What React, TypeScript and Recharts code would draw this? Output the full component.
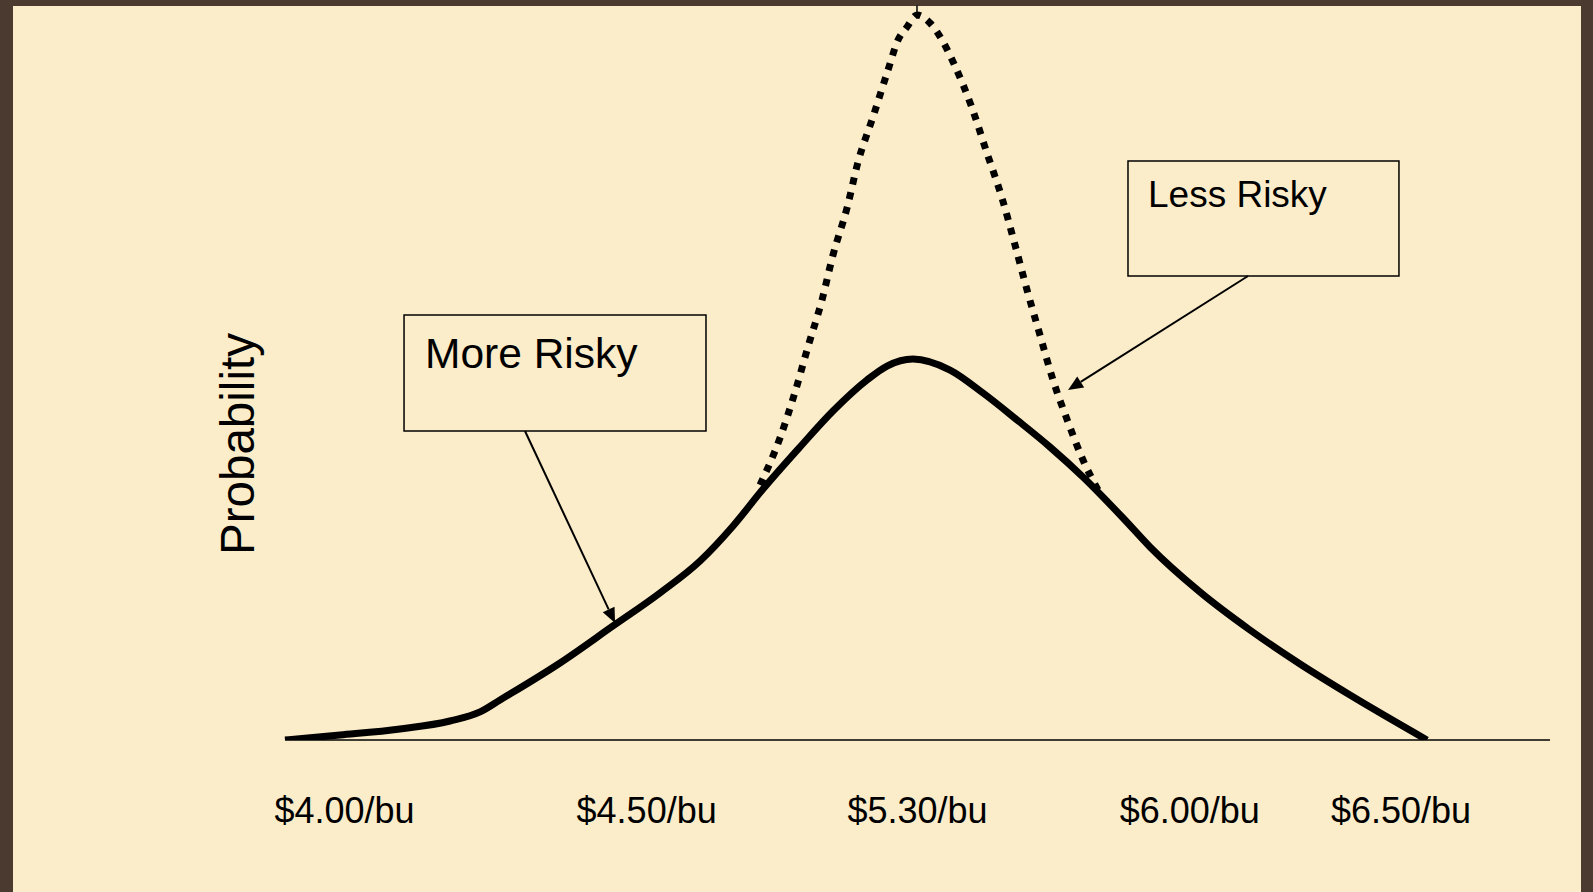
import React from "react";
import {
  LineChart, Line, XAxis, YAxis, ReferenceArea, ReferenceLine
} from "recharts";

// position along the price axis (0-100) and probability height (0-100)
const moreRiskyX = [0, 4.35, 9.09, 13.04, 15.42, 17.0, 21.74, 25.93, 29.64, 32.81, 35.42, 37.79, 40.71, 43.32, 46.01, 47.59, 49.64, 52.57, 55.18, 57.87, 60.47, 63.08, 66.25, 68.38, 72.33, 76.28, 80.24, 84.19, 90.28];
const moreRiskyY = [0, 0.68, 1.51, 2.6, 3.84, 5.48, 10.55, 15.62, 20.14, 24.52, 29.32, 34.38, 40.14, 45.07, 49.32, 51.23, 52.19, 50.68, 47.53, 43.84, 40.14, 36.03, 30.41, 26.44, 20.27, 15.07, 10.41, 6.16, 0];

const lessRiskyX = [37.55, 39.13, 40.32, 41.34, 42.45, 43.32, 44.43, 45.3, 46.48, 47.67, 48.46, 49.17, 49.96, 50.99, 51.94, 52.89, 54.31, 55.49, 56.68, 57.71, 58.66, 59.68, 60.71, 61.9, 63.08, 64.27];
const lessRiskyY = [34.93, 41.37, 47.67, 53.84, 60.27, 66.44, 72.88, 79.18, 85.34, 91.78, 95.89, 97.67, 99.32, 98.22, 95.89, 92.6, 86.58, 80.41, 74.25, 67.81, 61.64, 55.48, 49.32, 43.56, 38.36, 34.25];

const tickPositions = [4.7, 28.59, 50, 71.52, 88.22];
const tickLabels = ["$4.00/bu", "$4.50/bu", "$5.30/bu", "$6.00/bu", "$6.50/bu"];

const moreRisky = moreRiskyX.map((x, i) => ({ x, y: moreRiskyY[i] }));
const lessRisky = lessRiskyX.map((x, i) => ({ x, y: lessRiskyY[i] }));

const FONT = "'Liberation Sans', Arial, sans-serif";

const Arrow = (props: any) => {
  const { x1, y1, x2, y2 } = props;
  const a = Math.atan2(y2 - y1, x2 - x1);
  const len = 15, half = 6.5;
  const bx = x2 - len * Math.cos(a), by = y2 - len * Math.sin(a);
  const px = -Math.sin(a) * half, py = Math.cos(a) * half;
  return (
    <g>
      <line x1={x1} y1={y1} x2={bx} y2={by} stroke="#000" strokeWidth={2} />
      <polygon points={`${x2},${y2} ${bx + px},${by + py} ${bx - px},${by - py}`} fill="#000" />
    </g>
  );
};

const boxLabel = (text: string, size: number, dx: number, dy: number) => (props: any) => {
  const { viewBox } = props;
  return (
    <text x={viewBox.x + dx} y={viewBox.y + dy} fontSize={size} fontFamily={FONT} fill="#000">
      {text}
    </text>
  );
};

const YLabel = (props: any) => {
  const { viewBox } = props;
  const x = viewBox.x - 31;
  const y = viewBox.y + viewBox.height / 2 + 69;
  return (
    <text x={x} y={y} transform={`rotate(-90, ${x}, ${y})`} textAnchor="middle"
      fontSize={47.5} fontFamily={FONT} fill="#000">
      Probability
    </text>
  );
};

export default function App() {
  return (
    <div style={{ position: "absolute", left: 0, top: 0, width: 1593, height: 892, background: "#4A3A2F" }}>
      <div style={{ position: "absolute", left: 13, top: 6, width: 1568, height: 886, background: "#FCEDCA" }} />
      <div style={{ position: "absolute", left: 0, top: 0 }}>
        <LineChart width={1593} height={892} margin={{ top: 10, right: 43, bottom: 72, left: 285 }}>
          <XAxis
            type="number"
            dataKey="x"
            domain={[0, 100]}
            ticks={tickPositions}
            interval={0}
            tickFormatter={(v: number) => tickLabels[tickPositions.indexOf(v)]}
            tickSize={0}
            tickMargin={57}
            height={80}
            axisLine={{ stroke: "#000", strokeWidth: 1.5 }}
            tick={{ fontSize: 36, fontFamily: FONT, fill: "#000" }}
          />
          <YAxis type="number" domain={[0, 100]} allowDataOverflow hide />
          <ReferenceLine x={0} stroke="none" ifOverflow="visible" label={{ content: YLabel }} />
          <ReferenceArea x1={9.41} x2={33.28} y1={42.33} y2={58.22} fill="none" stroke="#000" strokeWidth={1.5}
            ifOverflow="visible" label={{ content: boxLabel("More Risky", 42.5, 21, 53) }} />
          <ReferenceArea x1={66.64} x2={88.06} y1={63.56} y2={79.32} fill="none" stroke="#000" strokeWidth={1.5}
            ifOverflow="visible" label={{ content: boxLabel("Less Risky", 37, 20, 46) }} />
          <ReferenceLine segment={[{ x: 18.97, y: 42.33 }, { x: 26.09, y: 16.03 }]} ifOverflow="visible" shape={Arrow} />
          <ReferenceLine segment={[{ x: 76.13, y: 63.56 }, { x: 61.9, y: 47.95 }]} ifOverflow="visible" shape={Arrow} />
          <ReferenceLine segment={[{ x: 49.96, y: 100.6 }, { x: 49.96, y: 99.3 }]} ifOverflow="visible" stroke="#000" strokeWidth={1.5} />
          <Line data={lessRisky} dataKey="y" type="monotone" stroke="#000" strokeWidth={7}
            strokeDasharray="7 8" dot={false} activeDot={false} isAnimationActive={false} />
          <Line data={moreRisky} dataKey="y" type="monotone" stroke="#000" strokeWidth={7}
            dot={false} activeDot={false} isAnimationActive={false} />
        </LineChart>
      </div>
    </div>
  );
}
